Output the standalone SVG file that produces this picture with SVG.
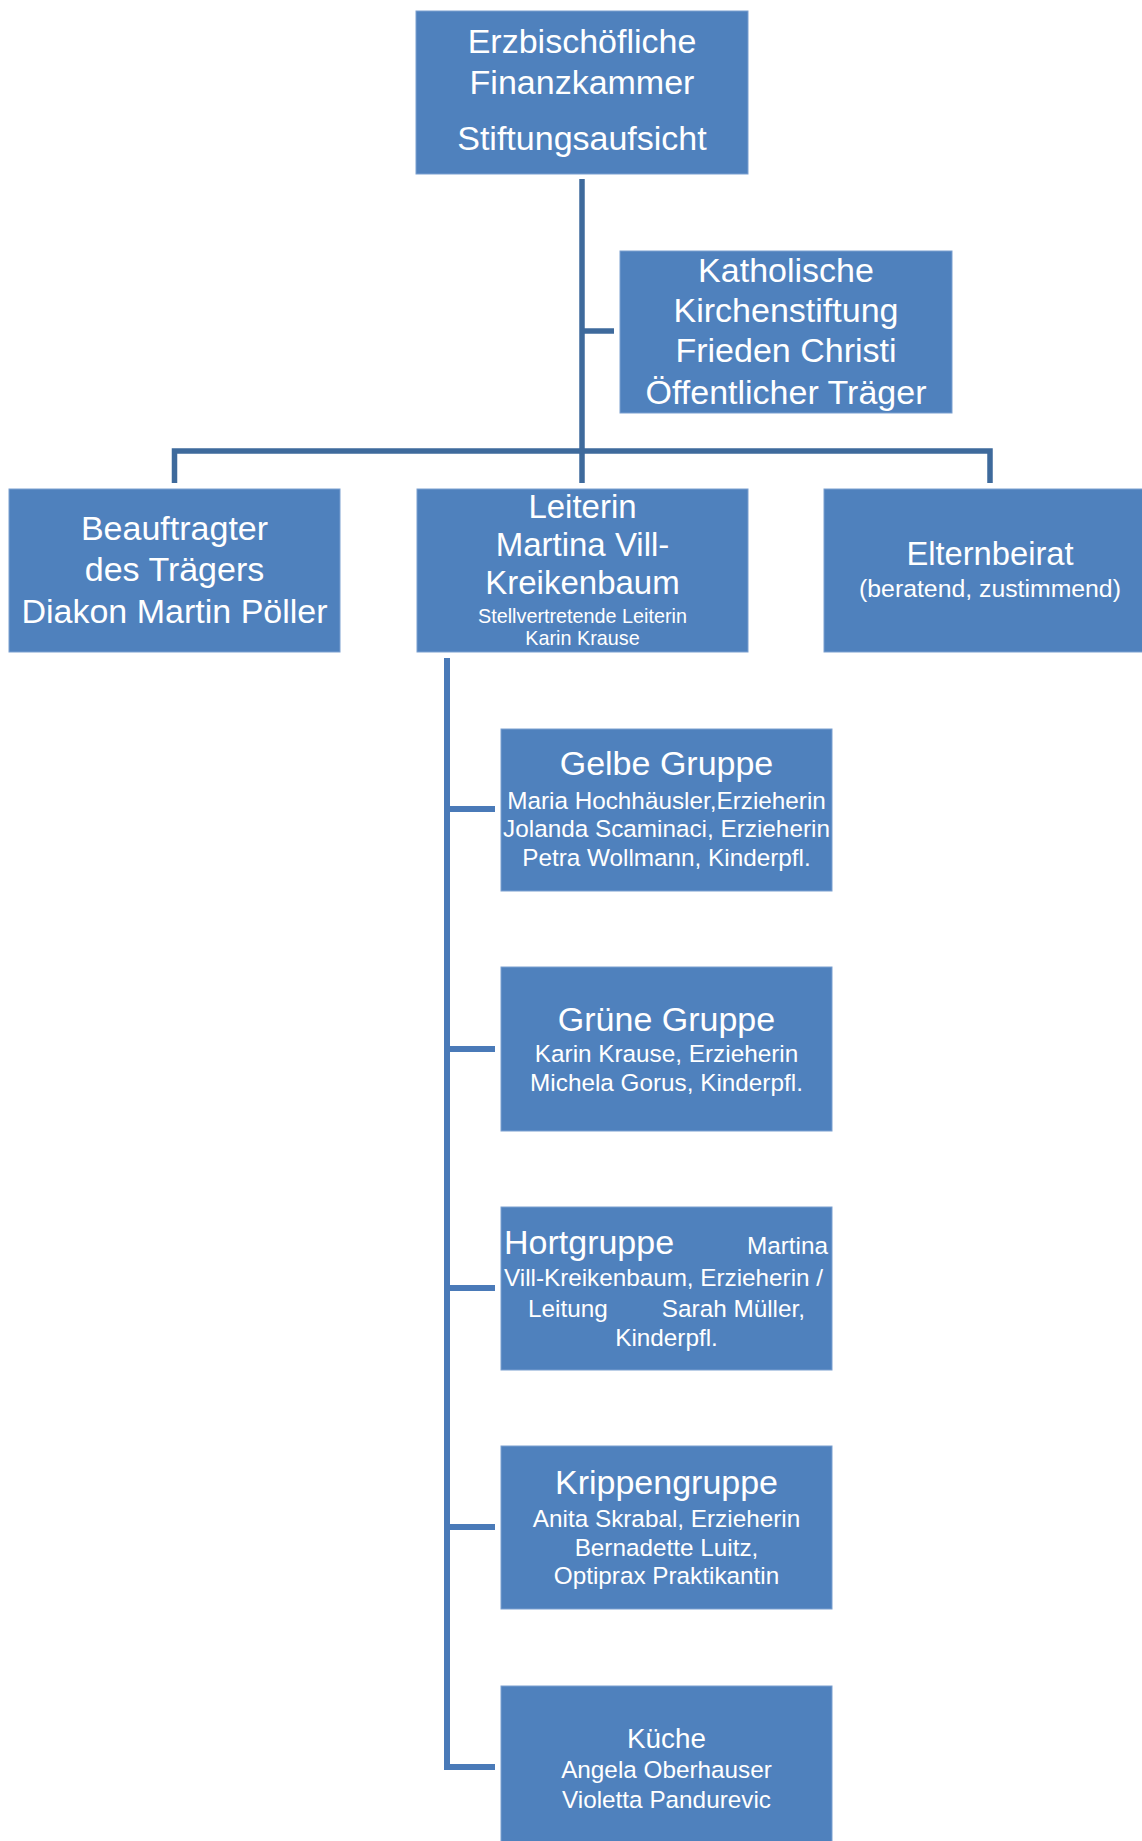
<svg xmlns="http://www.w3.org/2000/svg" width="1142" height="1841" viewBox="0 0 1142 1841">
<style>
.box{fill:#4f81bd;stroke:#7b9fd0;stroke-width:1}
text{font-family:"Liberation Sans",Arial,sans-serif;fill:#ffffff;text-anchor:middle}
.b{font-size:34px}
.s{font-size:24.3px}
.xs{font-size:19.8px}
.c1{fill:none;stroke:#3e6a9c;stroke-width:5.5;stroke-linejoin:miter}
.c2{fill:none;stroke:#4a7ab8;stroke-width:6;stroke-linejoin:miter}
</style>
<rect width="1142" height="1841" fill="#ffffff"/>
<g id="connectors">
<path class="c1" d="M582,179 V483"/>
<path class="c1" d="M582,331 H614"/>
<path class="c1" d="M174.5,483 V451 H990 V483"/>
<path class="c2" d="M447,658 V1767 H495"/>
<path class="c2" d="M447,809 H495"/>
<path class="c2" d="M447,1049 H495"/>
<path class="c2" d="M447,1288 H495"/>
<path class="c2" d="M447,1527 H495"/>
</g>
<g id="finanzkammer">
<rect class="box" x="416" y="11" width="332" height="163"/>
<text class="b" x="582" y="53">Erzbischöfliche</text>
<text class="b" x="582" y="94">Finanzkammer</text>
<text class="b" x="582" y="150">Stiftungsaufsicht</text>
</g>
<g id="kirchenstiftung">
<rect class="box" x="620" y="251" width="332" height="162"/>
<text class="b" x="786" y="282">Katholische</text>
<text class="b" x="786" y="322">Kirchenstiftung</text>
<text class="b" x="786" y="362">Frieden Christi</text>
<text class="b" x="786" y="404">Öffentlicher Träger</text>
</g>
<g id="beauftragter">
<rect class="box" x="9" y="489" width="331" height="163"/>
<text class="b" x="174.5" y="540">Beauftragter</text>
<text class="b" x="174.5" y="581">des Trägers</text>
<text class="b" x="174.5" y="623">Diakon Martin Pöller</text>
</g>
<g id="leiterin">
<rect class="box" x="417" y="489" width="331" height="163"/>
<text class="b" x="582.5" y="518" style="font-size:33px">Leiterin</text>
<text class="b" x="582.5" y="556" style="font-size:33px">Martina Vill-</text>
<text class="b" x="582.5" y="594" style="font-size:33px">Kreikenbaum</text>
<text class="xs" x="582.5" y="623">Stellvertretende Leiterin</text>
<text class="xs" x="582.5" y="645">Karin Krause</text>
</g>
<g id="elternbeirat">
<rect class="box" x="824" y="489" width="332" height="163"/>
<text class="b" x="990" y="565" style="font-size:32.7px">Elternbeirat</text>
<text class="s" x="990" y="597" style="font-size:24.8px">(beratend, zustimmend)</text>
</g>
<g id="gelbe-gruppe">
<rect class="box" x="501" y="729" width="331" height="162"/>
<text class="b" x="666.5" y="775">Gelbe Gruppe</text>
<text class="s" x="666.5" y="809">Maria Hochhäusler,Erzieherin</text>
<text class="s" x="666.5" y="837">Jolanda Scaminaci, Erzieherin</text>
<text class="s" x="666.5" y="866">Petra Wollmann, Kinderpfl.</text>
</g>
<g id="gruene-gruppe">
<rect class="box" x="501" y="967" width="331" height="164"/>
<text class="b" x="666.5" y="1031">Grüne Gruppe</text>
<text class="s" x="666.5" y="1062">Karin Krause, Erzieherin</text>
<text class="s" x="666.5" y="1091">Michela Gorus, Kinderpfl.</text>
</g>
<g id="hortgruppe">
<rect class="box" x="501" y="1207" width="331" height="163"/>
<text class="b" x="504" y="1254" style="text-anchor:start">Hortgruppe</text>
<text class="s" x="828" y="1254" style="text-anchor:end">Martina</text>
<text class="s" x="504" y="1286" style="text-anchor:start" textLength="319" lengthAdjust="spacing">Vill-Kreikenbaum, Erzieherin /</text>
<text class="s" x="528" y="1317" style="text-anchor:start">Leitung</text>
<text class="s" x="805" y="1317" style="text-anchor:end">Sarah Müller,</text>
<text class="s" x="666.5" y="1346">Kinderpfl.</text>
</g>
<g id="krippengruppe">
<rect class="box" x="501" y="1446" width="331" height="163"/>
<text class="b" x="666.5" y="1494">Krippengruppe</text>
<text class="s" x="666.5" y="1527">Anita Skrabal, Erzieherin</text>
<text class="s" x="666.5" y="1556">Bernadette Luitz,</text>
<text class="s" x="666.5" y="1584">Optiprax Praktikantin</text>
</g>
<g id="kueche">
<rect class="box" x="501" y="1686" width="331" height="170"/>
<text class="b" x="666.5" y="1748" style="font-size:27.8px">Küche</text>
<text class="s" x="666.5" y="1778">Angela Oberhauser</text>
<text class="s" x="666.5" y="1808">Violetta Pandurevic</text>
</g>
</svg>
